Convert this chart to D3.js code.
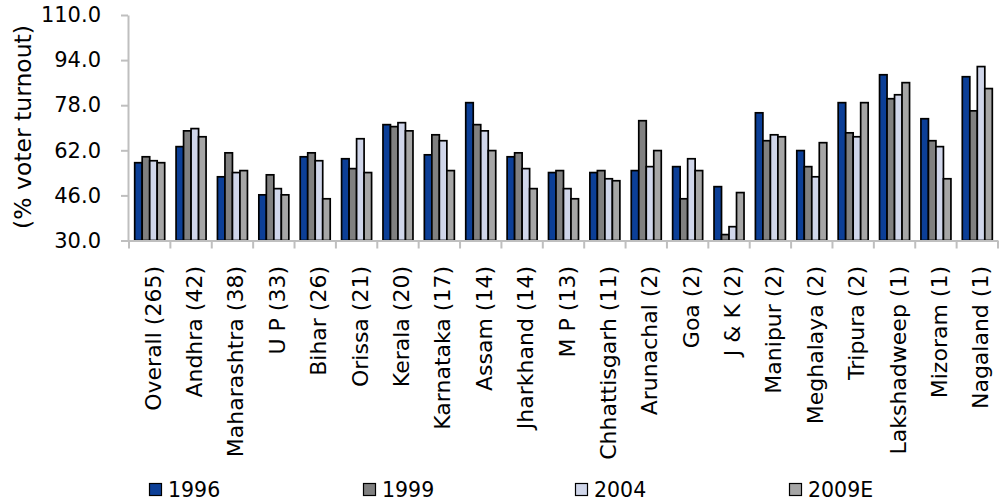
<!DOCTYPE html>
<html>
<head>
<meta charset="utf-8">
<script src="https://cdn.jsdelivr.net/npm/d3@7"></script>
<style>
  html, body { margin: 0; padding: 0; background: #fff; }
  svg { display: block; font-family: "DejaVu Sans", Verdana, sans-serif; }
</style>
</head>
<body>
<svg id="chart" width="1004" height="501"></svg>
<script>
// Voter turnout by state across elections
const categories = ["Overall (265)", "Andhra (42)", "Maharashtra (38)", "U P (33)", "Bihar (26)",
  "Orissa (21)", "Kerala (20)", "Karnataka (17)", "Assam (14)", "Jharkhand (14)", "M P (13)",
  "Chhattisgarh (11)", "Arunachal (2)", "Goa (2)", "J & K (2)", "Manipur (2)", "Meghalaya (2)",
  "Tripura (2)", "Lakshadweep (1)", "Mizoram (1)", "Nagaland (1)"];

const seriesNames = ["1996", "1999", "2004", "2009E"];

const turnout1996 = [57.6, 63.3, 52.6, 46.2, 59.7, 59.0, 71.1, 60.4, 78.9, 59.7, 54.1, 54.1, 54.8, 56.2, 49.1, 75.3, 61.9, 78.9, 88.8, 73.2, 88.1];
const turnout1999 = [59.7, 68.9, 61.1, 53.3, 61.1, 55.5, 70.4, 67.5, 71.1, 61.1, 54.8, 54.8, 72.5, 44.8, 32.1, 65.4, 56.2, 68.2, 80.3, 65.4, 76.0];
const turnout2004 = [58.3, 69.7, 54.1, 48.4, 58.3, 66.1, 71.8, 65.4, 68.9, 55.5, 48.4, 51.9, 56.2, 59.0, 34.9, 67.5, 52.6, 66.8, 81.7, 63.3, 91.7];
const turnout2009 = [57.6, 66.8, 54.8, 46.2, 44.8, 54.1, 68.9, 54.8, 61.9, 48.4, 44.8, 51.2, 61.9, 54.8, 47.0, 66.8, 64.7, 78.9, 86.0, 51.9, 83.9];

const yTicks = [30, 46, 62, 78, 94, 110];

const seriesValues = [turnout1996, turnout1999, turnout2004, turnout2009];
const colors = ["#0c3f97", "#808080", "#d0d6ea", "#a6a6a6"];

const svg = d3.select("#chart");
const plot = { left: 129, right: 998, top: 15, bottom: 240.5 };
const axisColor = "#bfbfbf";

const x = d3.scaleBand().domain(categories).range([plot.left, plot.right]);
const groupWidth = 30;
const x1 = d3.scaleBand().domain(seriesNames).range([0, groupWidth]);
const y = d3.scaleLinear().domain([30, 110]).range([plot.bottom, plot.top]);

// Bars
const groups = svg.append("g").selectAll("g")
  .data(categories)
  .join("g")
  .attr("transform", d => `translate(${x(d) + (x.bandwidth() - groupWidth) / 2},0)`);

groups.selectAll("rect")
  .data((d, i) => seriesNames.map((s, k) => ({ s, v: seriesValues[k][i], k })))
  .join("rect")
  .attr("x", d => x1(d.s))
  .attr("width", x1.bandwidth())
  .attr("y", d => y(d.v))
  .attr("height", d => y(30) - y(d.v))
  .attr("fill", d => colors[d.k])
  .attr("stroke", "#000")
  .attr("stroke-width", 1.7);

// Y axis
const yAxis = d3.axisLeft(y)
  .tickValues(yTicks)
  .tickFormat(d3.format(".1f"))
  .tickSizeInner(7)
  .tickSizeOuter(0)
  .tickPadding(20);

const yg = svg.append("g")
  .attr("transform", `translate(${plot.left - 1},0)`)
  .call(yAxis);
yg.select(".domain").attr("stroke", axisColor).attr("stroke-width", 2);
yg.selectAll(".tick line").attr("stroke", axisColor).attr("stroke-width", 2);
yg.selectAll(".tick text")
  .attr("font-family", "DejaVu Sans, Verdana, sans-serif")
  .attr("font-size", 21)
  .attr("fill", "#000");

// X axis line and boundary ticks
const xg = svg.append("g");
xg.append("line")
  .attr("x1", plot.left - 7).attr("x2", plot.right)
  .attr("y1", plot.bottom + 0.5).attr("y2", plot.bottom + 0.5)
  .attr("stroke", axisColor).attr("stroke-width", 2);
const bounds = categories.map(c => x(c)).concat([x.range()[1]]);
xg.selectAll("line.tk")
  .data(bounds)
  .join("line")
  .attr("class", "tk")
  .attr("x1", d => d).attr("x2", d => d)
  .attr("y1", plot.bottom).attr("y2", plot.bottom + 8)
  .attr("stroke", axisColor).attr("stroke-width", 2);

// Category labels, rotated
xg.selectAll("text")
  .data(categories)
  .join("text")
  .attr("transform", d => `translate(${x(d) + x.bandwidth() / 2},266) rotate(-90)`)
  .attr("text-anchor", "end")
  .attr("dy", "0.5em")
  .attr("font-size", 22)
  .attr("fill", "#000")
  .text(d => d);

// Y axis title
svg.append("text")
  .attr("transform", "translate(31,127) rotate(-90)")
  .attr("text-anchor", "middle")
  .attr("font-size", 23.5)
  .attr("fill", "#000")
  .text("(% voter turnout)");

// Legend
const legendX = [149, 363, 575, 789];
const legend = svg.append("g").selectAll("g")
  .data(seriesNames)
  .join("g")
  .attr("transform", (d, i) => `translate(${legendX[i]},483)`);
legend.append("rect")
  .attr("x", 0.5).attr("y", 0.5)
  .attr("width", 12).attr("height", 12)
  .attr("fill", (d, i) => colors[i])
  .attr("stroke", "#000").attr("stroke-width", 1.2);
legend.append("text")
  .attr("x", 19).attr("y", 14)
  .attr("font-size", 20.5)
  .attr("fill", "#000")
  .text(d => d);
</script>
</body>
</html>
